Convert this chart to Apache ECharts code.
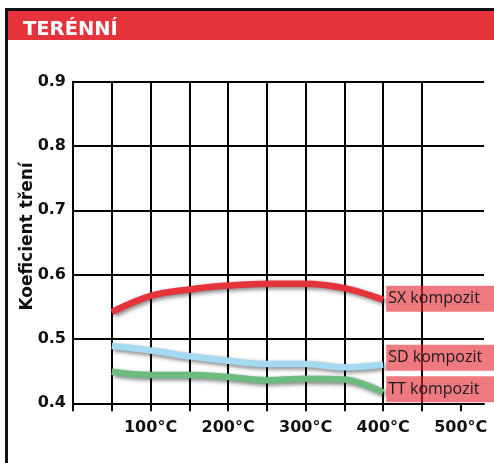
<!DOCTYPE html>
<html>
<head>
<meta charset="utf-8">
<script src="https://cdn.jsdelivr.net/npm/echarts@6/dist/echarts.min.js"></script>
<style>
html,body{margin:0;padding:0;background:#fff;}
#chart{width:494px;height:463px;}
</style>
</head>
<body>
<div id="chart"></div>
<script>
const titleText = 'TERÉNNÍ';
const yAxisName = 'Koeficient tření';
const temps = [50, 100, 150, 200, 250, 300, 350, 400];
const sxValues = [0.542, 0.567, 0.577, 0.583, 0.586, 0.586, 0.579, 0.561];
const sdValues = [0.489, 0.482, 0.473, 0.466, 0.461, 0.461, 0.456, 0.460];
const ttValues = [0.449, 0.444, 0.444, 0.441, 0.436, 0.438, 0.437, 0.417];
const seriesNames = ['SX kompozit', 'SD kompozit', 'TT kompozit'];
const seriesColors = ['#E4333B', '#A5D9F2', '#6DBB7F'];
const xTickValues = [0, 50, 100, 150, 200, 250, 300, 350, 400, 450, 500];
const xLabelValues = [100, 200, 300, 400, 500];
const yTickLabels = ['0.4', '0.5', '0.6', '0.7', '0.8', '0.9'];

const chart = echarts.init(document.getElementById('chart'));
const allValues = [sxValues, sdValues, ttValues];
const labelOffsets = [[0, -1], [0, -7], [0, -3]];

const series = allValues.map((vals, i) => ({
  name: seriesNames[i],
  type: 'line',
  data: temps.map((t, j) => [t, vals[j]]),
  smooth: 0.35,
  symbol: 'none',
  z: 3,
  lineStyle: {
    color: seriesColors[i],
    width: 6.5,
    cap: 'butt',
    shadowColor: 'rgba(0,0,0,0.5)',
    shadowBlur: 4,
    shadowOffsetX: 2,
    shadowOffsetY: 2
  },
  endLabel: {
    show: true,
    formatter: seriesNames[i],
    offset: labelOffsets[i],
    distance: 3,
    color: '#1a1a1a',
    fontFamily: 'Open Sans',
    fontSize: 16,
    backgroundColor: 'rgba(228,40,50,0.62)',
    padding: [2, 30, 2, 2],
    width: 110,
    height: 22,
    lineHeight: 22
  }
}));

chart.setOption({
  animation: false,
  backgroundColor: '#fff',
  title: {
    text: titleText,
    left: 18,
    top: 15,
    textStyle: {color: '#fff', fontFamily: 'DejaVu Sans', fontWeight: 'bold', fontSize: 19.5}
  },
  graphic: [
    {type: 'rect', shape: {x: 6.5, y: 9.5, width: 600, height: 600}, style: {fill: 'none', stroke: '#111', lineWidth: 3}, z: -10},
    {type: 'rect', shape: {x: 8, y: 11, width: 500, height: 29}, style: {fill: '#E4333B'}, z: -9}
  ],
  grid: {left: 73, right: 10, top: 81.7, bottom: 59.7, containLabel: false},
  xAxis: {
    type: 'value',
    min: 0,
    max: 530,
    interval: 50,
    axisLine: {show: true, lineStyle: {color: '#000', width: 2}},
    axisTick: {show: true, customValues: xTickValues, length: 8, lineStyle: {color: '#000', width: 2}},
    splitLine: {show: true, showMaxLine: false, lineStyle: {color: '#000', width: 2}},
    axisLabel: {
      customValues: xLabelValues,
      formatter: v => v + '°C',
      color: '#111',
      fontFamily: 'DejaVu Sans',
      fontWeight: 'bold',
      fontSize: 16,
      margin: 17
    }
  },
  yAxis: {
    type: 'value',
    min: 0.4,
    max: 0.9,
    interval: 0.1,
    name: yAxisName,
    nameLocation: 'middle',
    nameGap: 37,
    nameMoveOverlap: false,
    nameTextStyle: {color: '#111', fontFamily: 'DejaVu Sans', fontWeight: 'bold', fontSize: 17, padding: [0, 0, 0, 12]},
    axisLine: {show: true, lineStyle: {color: '#000', width: 2}},
    axisTick: {show: false},
    splitLine: {show: true, lineStyle: {color: '#000', width: 2}},
    axisLabel: {
      formatter: v => yTickLabels[Math.round((v - 0.4) * 10)],
      color: '#111',
      fontFamily: 'DejaVu Sans',
      fontWeight: 'bold',
      fontSize: 16,
      margin: 7
    }
  },
  series: series
});
</script>
</body>
</html>
